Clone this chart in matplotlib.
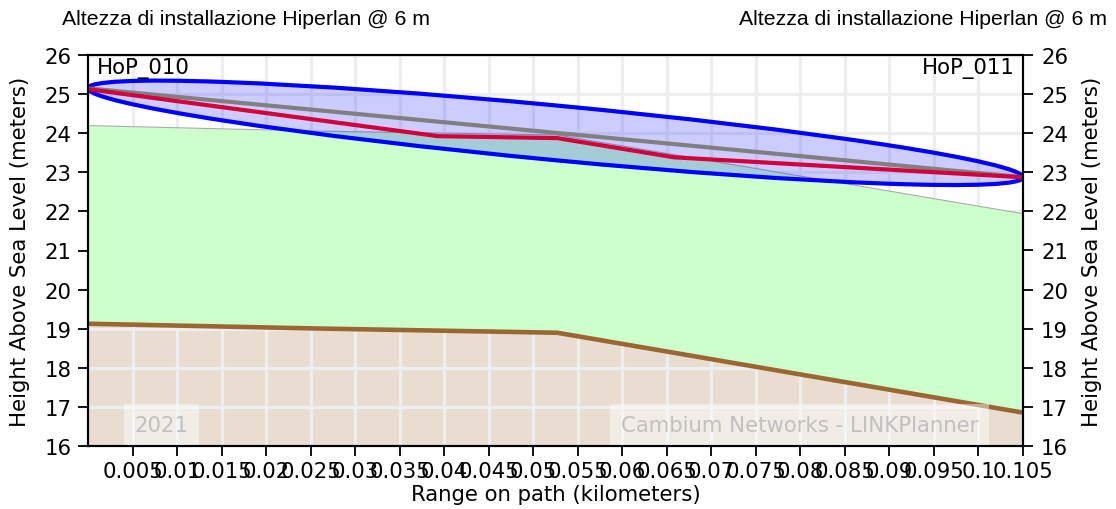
# -*- coding: utf-8 -*-
# Link profile HoP_010 -> HoP_011 (LINKPlanner style)
import matplotlib
matplotlib.use("Agg")
import matplotlib.pyplot as plt
from matplotlib.patches import Ellipse
from matplotlib.transforms import Affine2D

# ---- data (km / m) ----
terrain_x = [0.0, 0.0253, 0.0527, 0.105]
terrain_y = [19.13, 19.01, 18.90, 16.86]
clutter_y = [24.19, 24.05, 23.95, 21.94]     # top of green (terrain + clutter)

los_x = [0.0, 0.105]
los_y = [25.14, 22.87]                       # grey line of sight

red_x = [0.0, 0.0393, 0.0527, 0.0658, 0.105]
red_y = [25.12, 23.92, 23.87, 23.38, 22.87]

fresnel_half = 0.70                          # half height of fresnel zone at mid path (m)

xtick_labels = ['0.005', '0.01', '0.015', '0.02', '0.025', '0.03', '0.035', '0.04',
                '0.045', '0.05', '0.055', '0.06', '0.065', '0.07', '0.075', '0.08',
                '0.085', '0.09', '0.095', '0.1', '0.105']
xticks = [float(s) for s in xtick_labels]
yticks = [16, 17, 18, 19, 20, 21, 22, 23, 24, 25, 26]

site_a = 'HoP_010'
site_b = 'HoP_011'
title_txt = 'Altezza di installazione Hiperlan @ 6 m'

fs = 15.3
plt.rcParams['font.family'] = 'DejaVu Sans'

fig = plt.figure(figsize=(11.16, 5.1), dpi=100)
ax = fig.add_axes([88/1116, 62.7/510, 935/1116, 391.6/510])

# terrain (brown, semi transparent so grid shows) and clutter (green)
ax.fill_between(terrain_x, 16, terrain_y, color='#9c6632', alpha=0.22, lw=0, zorder=0.8)
ax.fill_between(terrain_x, terrain_y, clutter_y, color='#ccffcc', lw=0, zorder=1.2)
ax.plot(terrain_x, clutter_y, color='#aaaaaa', lw=0.8, zorder=1.3)

# fresnel zone around the line of sight
D = los_x[1] - los_x[0]
tr = Affine2D.from_values(D, los_y[1] - los_y[0], 0, fresnel_half, los_x[0], los_y[0])
ell = Ellipse((0.5, 0), 1, 2, transform=tr + ax.transData,
              facecolor=(0, 0, 1, 0.2), edgecolor='#0000ff', lw=3, zorder=2)
ax.add_patch(ell)

ax.plot(terrain_x, terrain_y, color='#9c6632', lw=3.3, zorder=3, solid_capstyle='butt')
ax.plot(los_x, los_y, color='#808080', lw=3, zorder=3)
ax.plot(red_x, red_y, color='#d4003a', lw=3, zorder=4)

ax.set_xlim(0, 0.105)
ax.set_ylim(16, 26)
ax.set_xticks(xticks)
ax.set_xticklabels(xtick_labels)
ax.set_yticks(yticks)
ax.grid(True, color='#eeeeee', lw=2.3)
ax.xaxis.set_zorder(1)
ax.yaxis.set_zorder(1)
ax.tick_params(labelsize=fs, length=7, width=1.3)
ax.tick_params(axis='y', pad=5)
for s in ax.spines.values():
    s.set_linewidth(1.5)
ax.set_xlabel('Range on path (kilometers)', fontsize=fs, labelpad=2)
ax.set_ylabel('Height Above Sea Level (meters)', fontsize=fs, labelpad=10)

ax2 = ax.twinx()
ax2.set_ylim(16, 26)
ax2.set_yticks(yticks)
ax2.tick_params(labelsize=fs, length=7, width=1.3, pad=6)
for s in ax2.spines.values():
    s.set_linewidth(1.5)
ax2.set_ylabel('Height Above Sea Level (meters)', fontsize=fs, labelpad=10)

# site names
ax.text(0.009, 0.993, site_a, transform=ax.transAxes, ha='left', va='top', fontsize=fs, zorder=6)
ax.text(0.991, 0.993, site_b, transform=ax.transAxes, ha='right', va='top', fontsize=fs, zorder=6)

# watermarks
wm_box = dict(boxstyle='square,pad=0.5', facecolor='white', alpha=0.45, edgecolor='none')
ax.text(0.05, 0.03, '2021', transform=ax.transAxes, ha='left', va='bottom',
        fontsize=fs, color='#c0c0c0', bbox=wm_box, zorder=6)
ax.text(0.952, 0.03, 'Cambium Networks - LINKPlanner', transform=ax.transAxes,
        ha='right', va='bottom', fontsize=fs, color='#c0c0c0', bbox=wm_box, zorder=6)

# titles over each end
fig.text(62/1116, 1 - 25/510, title_txt, ha='left', va='baseline',
         fontsize=fs, family='Liberation Sans')
fig.text(1107/1116, 1 - 25/510, title_txt, ha='right', va='baseline',
         fontsize=fs, family='Liberation Sans')

fig.savefig('out.png', dpi=100)
